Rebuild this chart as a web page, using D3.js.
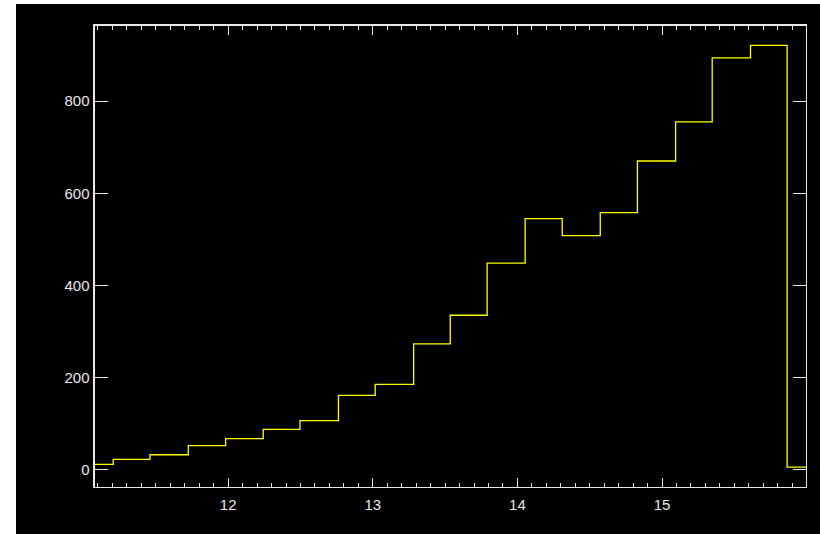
<!DOCTYPE html>
<html>
<head>
<meta charset="utf-8">
<script src="https://d3js.org/d3.v7.min.js"></script>
<style>
  html, body { margin: 0; padding: 0; background: #ffffff; }
  svg { display: block; }
</style>
</head>
<body>
<script>
// Histogram bin edges (interior)
const binEdges = [11.209, 11.463, 11.728, 11.986, 12.246, 12.500, 12.766, 13.020,
  13.286, 13.539, 13.794, 14.057, 14.313, 14.576, 14.833, 15.097, 15.350, 15.615, 15.868];
// Counts per bin (20 bins, first and last clipped by the frame)
const binValues = [10, 21, 31, 51, 66, 86, 105, 160, 184, 272, 334, 447, 544, 507,
  557, 669, 754, 893, 920, 4];
const xDomain = [11.076, 16.002];
const yDomain = [-40.6, 964.4];
const xMajorTicks = [12, 13, 14, 15, 16];
const xTickLabels = ["12", "13", "14", "15", ""];
const yMajorTicks = [0, 200, 400, 600, 800];
const yTickLabels = ["0", "200", "400", "600", "800"];

const W = 820, H = 534;
const frame = { left: 94, right: 806.5, top: 25, bottom: 487.7 };

const svg = d3.select("body").append("svg")
  .attr("width", W).attr("height", H);

svg.append("rect").attr("x", 16).attr("y", 4)
  .attr("width", W - 16).attr("height", H - 4).attr("fill", "#000000");

const x = d3.scaleLinear().domain(xDomain).range([frame.left, frame.right]);
const y = d3.scaleLinear().domain(yDomain).range([frame.bottom, frame.top]);

const axisColor = "#e8e8e8";

// Step line
const edges = [xDomain[0], ...binEdges, xDomain[1]];
const pts = [];
binValues.forEach((v, i) => {
  pts.push([x(edges[i]), y(v)]);
  pts.push([x(edges[i + 1]), y(v)]);
});
svg.append("path")
  .attr("d", d3.line()(pts))
  .attr("fill", "none")
  .attr("stroke", "#ffff00")
  .attr("stroke-width", 1.3)
  .attr("stroke-linejoin", "miter");

// Minor x ticks every 0.1
const xMinor = d3.range(111, 161).map(d => d / 10).filter(d => d > xDomain[0] && d < xDomain[1]);

function addAxis(g, axis) { g.call(axis); g.select(".domain").remove();
  g.selectAll("line").attr("stroke", axisColor).attr("stroke-width", 1).attr("shape-rendering", "crispEdges");
  g.selectAll("text").attr("fill", axisColor).attr("font-family", "Liberation Sans, Arial, sans-serif")
    .attr("font-size", 15);
}

// Bottom axis: minor ticks (inward)
addAxis(svg.append("g").attr("transform", `translate(0,${frame.bottom})`),
  d3.axisTop(x).tickValues(xMinor).tickSize(4.5).tickFormat(""));
// Bottom axis: major ticks with labels
const gb = svg.append("g").attr("transform", `translate(0,${frame.bottom})`);
addAxis(gb, d3.axisTop(x).tickValues(xMajorTicks.filter(d => d < xDomain[1])).tickSize(10)
  .tickFormat((d, i) => xTickLabels[i]));
gb.selectAll("text").attr("y", 22).attr("dy", null);

// Top axis ticks
addAxis(svg.append("g").attr("transform", `translate(0,${frame.top})`),
  d3.axisBottom(x).tickValues(xMinor).tickSize(4.5).tickFormat(""));
addAxis(svg.append("g").attr("transform", `translate(0,${frame.top})`),
  d3.axisBottom(x).tickValues(xMajorTicks.filter(d => d < xDomain[1])).tickSize(10).tickFormat(""));

// Left axis
const gl = svg.append("g").attr("transform", `translate(${frame.left},0)`);
addAxis(gl, d3.axisRight(y).tickValues(yMajorTicks).tickSize(14)
  .tickFormat((d, i) => yTickLabels[i]));
gl.selectAll("text").attr("x", -4.5).attr("text-anchor", "end").attr("dy", "0.35em");

// Right axis
addAxis(svg.append("g").attr("transform", `translate(${frame.right},0)`),
  d3.axisLeft(y).tickValues(yMajorTicks).tickSize(14).tickFormat(""));

// Frame
svg.append("rect")
  .attr("x", frame.left).attr("y", frame.top)
  .attr("width", frame.right - frame.left).attr("height", frame.bottom - frame.top)
  .attr("fill", "none").attr("stroke", axisColor).attr("stroke-width", 1.2)
  .attr("shape-rendering", "crispEdges");
</script>
</body>
</html>
